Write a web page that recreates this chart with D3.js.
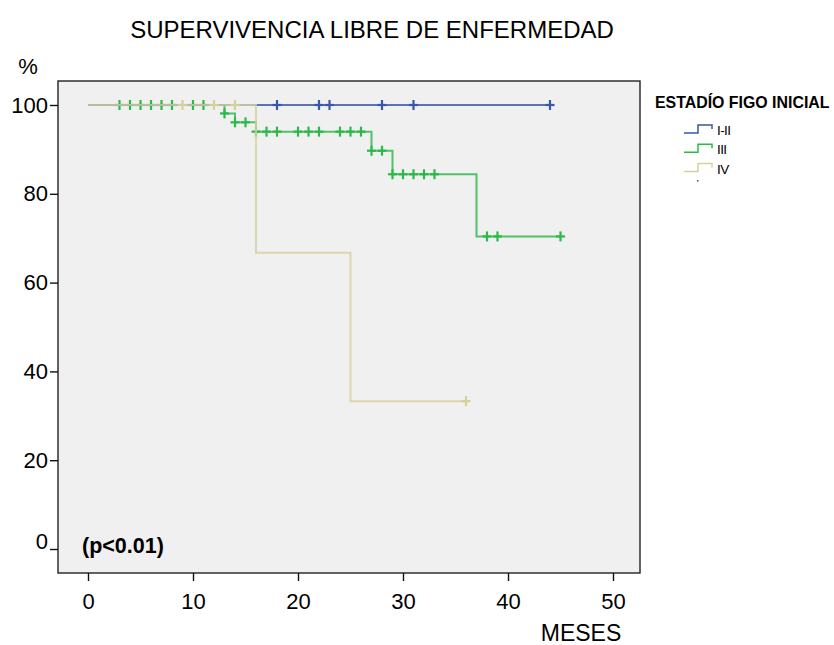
<!DOCTYPE html>
<html>
<head>
<meta charset="utf-8">
<script src="https://cdn.jsdelivr.net/npm/d3@7"></script>
<style>
  html, body { margin: 0; padding: 0; background: #ffffff; }
  svg { display: block; font-family: "Liberation Sans", Arial, sans-serif; }
</style>
</head>
<body>
<svg id="chart" width="834" height="645"></svg>
<script>
// ---- data ----
const groupNames = ["I-II", "III", "IV"];

const stepTimesI_II = [0];
const stepValsI_II  = [100];
const censorI_II    = [18, 22, 23, 28, 31, 44];
const endI_II       = 44;

const stepTimesIII = [0, 13, 14, 16, 27, 29, 37];
const stepValsIII  = [100, 98.1, 96.1, 94.0, 89.7, 84.4, 70.4];
const censorIII    = [3, 4, 5, 6, 7, 8, 10, 11, 13, 14, 15, 16, 17, 18, 20, 21, 22, 24, 25, 26,
                      27, 28, 29, 30, 31, 32, 33, 38, 39, 45];
const endIII       = 45;

const stepTimesIV = [0, 16, 25];
const stepValsIV  = [100, 66.7, 33.3];
const censorIV    = [9, 12, 14, 36];
const endIV       = 36;

const xTicks = [0, 10, 20, 30, 40, 50];
const yTicks = [0, 20, 40, 60, 80, 100];

const colors = ["#3a56a8", "#2db84a", "#d6d19c"];

const series = [
  {name: groupNames[0], times: stepTimesI_II, vals: stepValsI_II, censor: censorI_II, end: endI_II, color: colors[0]},
  {name: groupNames[1], times: stepTimesIII, vals: stepValsIII, censor: censorIII, end: endIII, color: colors[1]},
  {name: groupNames[2], times: stepTimesIV, vals: stepValsIV, censor: censorIV, end: endIV, color: colors[2]}
];

// ---- layout ----
const svg = d3.select("#chart");
const frame = {left: 58, top: 81, right: 640, bottom: 573};

const x = d3.scaleLinear().domain([0, 50]).range([88, 613]);
const y = d3.scaleLinear().domain([0, 100]).range([549, 105]);

// title
svg.append("text")
  .attr("x", 372).attr("y", 38)
  .attr("text-anchor", "middle")
  .attr("font-size", 24)
  .attr("fill", "#000")
  .text("SUPERVIVENCIA LIBRE DE ENFERMEDAD");

// plot frame
svg.append("rect")
  .attr("x", frame.left).attr("y", frame.top)
  .attr("width", frame.right - frame.left).attr("height", frame.bottom - frame.top)
  .attr("fill", "#f0f0f0")
  .attr("stroke", "#222").attr("stroke-width", 1.4);

// axes
const xAxis = svg.append("g")
  .attr("transform", `translate(0,${frame.bottom})`)
  .call(d3.axisBottom(x).tickValues(xTicks).tickSize(8).tickPadding(12).tickFormat(d3.format("d")));
xAxis.select(".domain").remove();
xAxis.selectAll("line").attr("stroke", "#111").attr("stroke-width", 1.4);
xAxis.selectAll("text").attr("font-size", 22).attr("font-family", "Liberation Sans, Arial, sans-serif").attr("fill", "#000");

const yAxis = svg.append("g")
  .attr("transform", `translate(${frame.left},0)`)
  .call(d3.axisLeft(y).tickValues(yTicks).tickSize(8).tickPadding(2).tickFormat(d3.format("d")));
yAxis.select(".domain").remove();
yAxis.selectAll("line").attr("stroke", "#111").attr("stroke-width", 1.4);
yAxis.selectAll("text").attr("font-size", 22).attr("font-family", "Liberation Sans, Arial, sans-serif").attr("fill", "#000");
yAxis.selectAll(".tick").filter(d => d === 0).select("text").attr("y", -8);

// axis labels
svg.append("text")
  .attr("x", 28).attr("y", 74)
  .attr("text-anchor", "middle")
  .attr("font-size", 22)
  .text("%");

svg.append("text")
  .attr("x", 581).attr("y", 641)
  .attr("text-anchor", "middle")
  .attr("font-size", 23)
  .text("MESES");

// KM curves
function stepValue(s, t) {
  let v = s.vals[0];
  for (let i = 0; i < s.times.length; i++) if (s.times[i] <= t) v = s.vals[i];
  return v;
}
function stepPath(s) {
  const pts = [];
  for (let i = 0; i < s.times.length; i++) {
    if (i > 0) pts.push([x(s.times[i]), y(s.vals[i - 1])]);
    pts.push([x(s.times[i]), y(s.vals[i])]);
  }
  pts.push([x(s.end), y(s.vals[s.vals.length - 1])]);
  return d3.line()(pts);
}

const drawOrder = [1, 0, 2];
drawOrder.forEach(idx => {
  const s = series[idx];
  const g = svg.append("g");
  g.append("path")
    .attr("d", stepPath(s))
    .attr("fill", "none")
    .attr("stroke", s.color)
    .attr("stroke-opacity", 0.82)
    .attr("stroke-width", 2);
  const c = g.selectAll("g.c").data(s.censor).enter().append("g")
    .attr("transform", t => `translate(${x(t)},${y(stepValue(s, t))})`);
  c.append("line").attr("x1", 0).attr("x2", 0).attr("y1", -5).attr("y2", 5)
    .attr("stroke", s.color).attr("stroke-width", 2.2);
  c.append("line").attr("x1", -4.5).attr("x2", 4.5).attr("y1", 0).attr("y2", 0)
    .attr("stroke", s.color).attr("stroke-width", 2.2);
});

// p-value
svg.append("text")
  .attr("x", 82).attr("y", 553)
  .attr("font-size", 21.5)
  .attr("font-weight", "bold")
  .text("(p<0.01)");

// legend
const leg = svg.append("g");
leg.append("text")
  .attr("x", 655).attr("y", 107.5)
  .attr("font-size", 15.9)
  .attr("font-weight", "bold")
  .text("ESTADÍO FIGO INICIAL");

series.forEach((s, i) => {
  const by = 133 + i * 19.3;
  const iconPts = [[684, by], [698, by], [698, by - 8], [712, by - 8], [712, by - 4]];
  leg.append("path")
    .attr("d", d3.line()(iconPts))
    .attr("fill", "none")
    .attr("stroke", s.color)
    .attr("stroke-width", 1.5);
  leg.append("text")
    .attr("x", 717).attr("y", by + 2)
    .attr("font-size", 13.5)
    .attr("letter-spacing", -0.6)
    .text(s.name);
});
leg.append("rect")
  .attr("x", 697).attr("y", 180).attr("width", 1.5).attr("height", 1.5)
  .attr("fill", colors[0]);
</script>
</body>
</html>
